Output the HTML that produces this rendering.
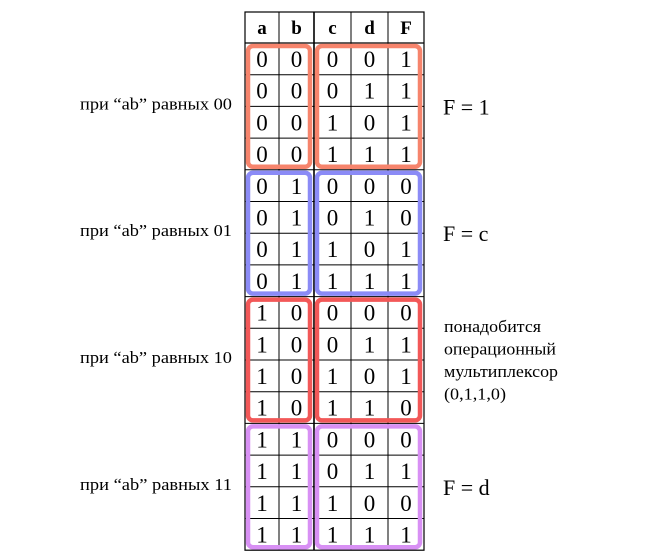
<!DOCTYPE html>
<html><head><meta charset="utf-8"><style>
html,body{margin:0;padding:0;background:#fff;}
svg{display:block;font-family:"Liberation Serif","DejaVu Serif",serif;}
</style></head><body>
<svg id="s" width="660" height="560"></svg>
<script>
const cols=[245,279,314,351,388,424];
const headers=['a','b','c','d','F'];
const rows=[
'00001','00011','00101','00111',
'01000','01010','01101','01111',
'10000','10011','10101','10110',
'11000','11011','11100','11111'];
const groupLabels=['при “ab” равных 00','при “ab” равных 01','при “ab” равных 10','при “ab” равных 11'];
const results=['F = 1','F = c','','F = d'];
const colors=['#f6846c','#8b8bf6','#f25858','#d890f4'];
const noteLines=['понадобится','операционный','мультиплексор','(0,1,1,0)'];
const noteWidths=[97,112,114,62];
const top0=12,hdrB=43,rh=31.7;
const NS='http://www.w3.org/2000/svg';
const s=document.getElementById('s');
function el(t,a,txt){const e=document.createElementNS(NS,t);for(const k in a)e.setAttribute(k,a[k]);if(txt!=null)e.textContent=txt;s.appendChild(e);return e;}
const bottom=hdrB+rh*rows.length;
let g=el('rect',{x:cols[0],y:top0,width:cols[5]-cols[0],height:bottom-top0,fill:'none',stroke:'#000','stroke-width':1.2});


for(let i=1;i<5;i++){const l=el('line',{x1:cols[i],y1:top0,x2:cols[i],y2:bottom,stroke:'#000','stroke-width':i==2?1.6:1});

}
const hl=el('line',{x1:cols[0],y1:hdrB,x2:cols[5],y2:hdrB,stroke:'#000','stroke-width':1.2});


for(let r=1;r<rows.length;r++){const y=hdrB+r*rh;const l=el('line',{x1:cols[0],y1:y,x2:cols[5],y2:y,stroke:'#000','stroke-width':1});

}
headers.forEach((h,i)=>{const t=el('text',{x:(cols[i]+cols[i+1])/2,y:34,'text-anchor':'middle','font-size':19,'font-weight':'bold'},h);

});
rows.forEach((r,ri)=>{for(let c=0;c<5;c++){const t=el('text',{x:(cols[c]+cols[c+1])/2,y:hdrB+ri*rh+24,'text-anchor':'middle','font-size':23},r[c]);

}});
for(let gi=0;gi<4;gi++){
const y1=hdrB+gi*4*rh+3,h=4*rh-6;
const a=el('rect',{x:248,y:y1,width:62,height:h,rx:5,fill:'none',stroke:colors[gi],'stroke-width':4.5});


const b=el('rect',{x:317,y:y1,width:103,height:h,rx:5,fill:'none',stroke:colors[gi],'stroke-width':4.5});


const cy=hdrB+gi*4*rh+2*rh;
const lt=el('text',{x:80,y:cy+3,'font-size':17,textLength:152,lengthAdjust:'spacingAndGlyphs'},groupLabels[gi]);


if(results[gi]){const rt=el('text',{x:443,y:cy+8,'font-size':22},results[gi]);

}
}
noteLines.forEach((t,i)=>{const e=el('text',{x:444,y:332+i*22.5,'font-size':17,textLength:noteWidths[i],lengthAdjust:'spacingAndGlyphs'},t);

});
</script>
</body></html>
